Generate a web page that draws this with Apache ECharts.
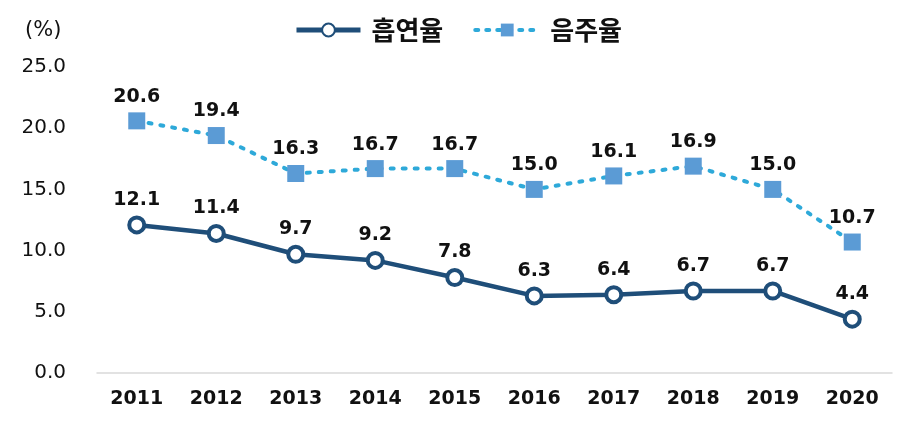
<!DOCTYPE html>
<html><head><meta charset="utf-8">
<script src="https://cdn.jsdelivr.net/npm/echarts@6/dist/echarts.min.js"></script>
<style>html,body{margin:0;padding:0;background:#fff}#c{width:916px;height:429px}</style>
</head><body><div id="c"></div>
<script>
const categories = ['2011','2012','2013','2014','2015','2016','2017','2018','2019','2020'];
const smoking = [12.1, 11.4, 9.7, 9.2, 7.8, 6.3, 6.4, 6.7, 6.7, 4.4];
const drinking = [20.6, 19.4, 16.3, 16.7, 16.7, 15.0, 16.1, 16.9, 15.0, 10.7];
const seriesNames = ['흡연율', '음주율'];
const yTicks = {min: 0, max: 25, interval: 5};

const chart = echarts.init(document.getElementById('c'));
const labelStyle = {show: true, position: 'top', distance: 6, fontSize: 19, fontWeight: 'bold', color: '#111',
  fontFamily: 'DejaVu Sans', formatter: p => p.value.toFixed(1)};
chart.setOption({
  animation: false,
  grid: {left: 97, right: 24, top: 67, bottom: 56},
  legend: {
    top: 12, left: 'center', itemGap: 30, itemWidth: 64, itemHeight: 16,
    textStyle: {fontSize: 26, fontWeight: 'bold', color: '#111', fontFamily: 'Noto Sans CJK KR', padding: [0, 0, 0, 6]},
    data: [
      {name: seriesNames[0], lineStyle: {width: 5, color: '#1f4e79'}},
      {name: seriesNames[1], lineStyle: {width: 4, color: '#2ea9d9', type: [3, 8], cap: 'round'}}
    ]
  },
  graphic: [{type: 'text', left: 25, top: 20, style: {text: '(%)', fontSize: 21, fill: '#111', fontFamily: 'DejaVu Sans'}}],
  xAxis: {
    type: 'category', data: categories, boundaryGap: true,
    axisLine: {show: true, lineStyle: {color: '#d9d9d9', width: 1.5}},
    axisTick: {show: false},
    axisLabel: {fontSize: 19, fontWeight: 'bold', color: '#111', margin: 17, fontFamily: 'DejaVu Sans'}
  },
  yAxis: {
    type: 'value', min: yTicks.min, max: yTicks.max, interval: yTicks.interval,
    axisLine: {show: false}, axisTick: {show: false}, splitLine: {show: false},
    axisLabel: {fontSize: 20, color: '#111', margin: 31, fontFamily: 'DejaVu Sans', formatter: v => v.toFixed(1)}
  },
  series: [
    {
      name: seriesNames[0], type: 'line', data: smoking,
      symbol: 'circle', symbolSize: 15,
      lineStyle: {color: '#1f4e79', width: 4.5},
      itemStyle: {color: '#fff', borderColor: '#1f4e79', borderWidth: 4},
      label: labelStyle
    },
    {
      name: seriesNames[1], type: 'line', data: drinking,
      symbol: 'rect', symbolSize: 17,
      lineStyle: {color: '#2ea9d9', width: 4, type: [3, 9], cap: 'round'},
      itemStyle: {color: '#5b9bd5', borderWidth: 0},
      label: labelStyle
    }
  ]
});
</script></body></html>
